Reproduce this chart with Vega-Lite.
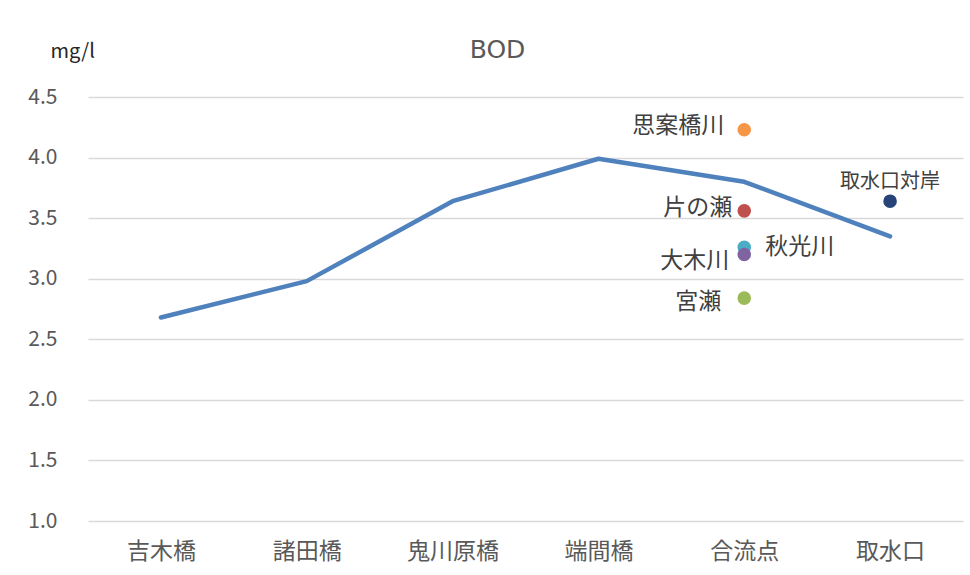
{
  "$schema": "https://vega.github.io/schema/vega-lite/v6.json",
  "width": 875,
  "height": 424,
  "autosize": {"type": "none"},
  "padding": {"left": 88, "top": 97, "right": 7, "bottom": 54},
  "background": "white",
  "config": {"view": {"stroke": null}, "font": "Noto Sans CJK JP"},
  "title": {"text": "BOD", "fontSize": 25, "fontWeight": "normal", "color": "#595959", "font": "DejaVu Sans", "dx": -28, "dy": 22, "offset": 0},
  "datasets": {
    "line": [
      {"site": "吉木橋", "value": 2.68},
      {"site": "諸田橋", "value": 2.98},
      {"site": "鬼川原橋", "value": 3.64},
      {"site": "端間橋", "value": 3.99},
      {"site": "合流点", "value": 3.80},
      {"site": "取水口", "value": 3.35}
    ],
    "points": [
      {"site": "合流点", "name": "思案橋川", "value": 4.23},
      {"site": "合流点", "name": "片の瀬", "value": 3.56},
      {"site": "合流点", "name": "秋光川", "value": 3.26},
      {"site": "合流点", "name": "大木川", "value": 3.20},
      {"site": "合流点", "name": "宮瀬", "value": 2.84},
      {"site": "取水口", "name": "取水口対岸", "value": 3.64}
    ]
  },
  "encoding": {
    "x": {"field": "site", "type": "nominal", "sort": null,
      "scale": {"type": "point", "padding": 0.5, "domain": ["吉木橋", "諸田橋", "鬼川原橋", "端間橋", "合流点", "取水口"]},
      "axis": {"title": null, "labelAngle": 0, "domain": false, "ticks": false, "grid": false, "labelFontSize": 23, "labelColor": "#595959", "labelPadding": 19}},
    "y": {"field": "value", "type": "quantitative",
      "scale": {"domain": [1, 4.5], "nice": false, "zero": false},
      "axis": {"values": [1, 1.5, 2, 2.5, 3, 3.5, 4, 4.5], "format": ".1f", "domain": false, "ticks": false, "grid": true, "gridColor": "#d9d9d9", "gridWidth": 1.5,
        "labelFontSize": 21, "labelColor": "#595959", "labelPadding": 31,
        "title": "mg/l", "titleAngle": 0, "titleX": -38, "titleY": -40, "titleAlign": "left", "titleBaseline": "alphabetic", "titleFontSize": 20, "titleFontWeight": "normal", "titleColor": "#262626"}}
  },
  "layer": [
    {"data": {"name": "line"}, "mark": {"type": "line", "color": "#4F81BD", "strokeWidth": 4.5, "strokeCap": "round", "strokeJoin": "round"}},
    {"data": {"name": "points"}, "mark": {"type": "circle", "size": 185, "opacity": 1},
      "encoding": {"color": {"field": "name", "type": "nominal", "legend": null,
        "scale": {"domain": ["思案橋川", "片の瀬", "秋光川", "大木川", "宮瀬", "取水口対岸"], "range": ["#F79646", "#C0504D", "#4BACC6", "#8064A2", "#9BBB59", "#264478"]}}}},
    {"data": {"name": "points"}, "transform": [{"filter": "datum.name === '思案橋川'"}],
      "mark": {"type": "text", "align": "right", "baseline": "middle", "dx": -20, "dy": -4, "fontSize": 23, "color": "#404040"},
      "encoding": {"text": {"field": "name"}}},
    {"data": {"name": "points"}, "transform": [{"filter": "datum.name === '片の瀬'"}],
      "mark": {"type": "text", "align": "right", "baseline": "middle", "dx": -12, "dy": -3, "fontSize": 23, "color": "#404040"},
      "encoding": {"text": {"field": "name"}}},
    {"data": {"name": "points"}, "transform": [{"filter": "datum.name === '宮瀬'"}],
      "mark": {"type": "text", "align": "right", "baseline": "middle", "dx": -23, "dy": 4, "fontSize": 23, "color": "#404040"},
      "encoding": {"text": {"field": "name"}}},
    {"data": {"name": "points"}, "transform": [{"filter": "datum.name === '大木川'"}],
      "mark": {"type": "text", "align": "right", "baseline": "middle", "dx": -15, "dy": 7, "fontSize": 23, "color": "#404040"},
      "encoding": {"text": {"field": "name"}}},
    {"data": {"name": "points"}, "transform": [{"filter": "datum.name === '秋光川'"}],
      "mark": {"type": "text", "align": "left", "baseline": "middle", "dx": 21, "dy": 0, "fontSize": 23, "color": "#404040"},
      "encoding": {"text": {"field": "name"}}},
    {"data": {"name": "points"}, "transform": [{"filter": "datum.name === '取水口対岸'"}],
      "mark": {"type": "text", "align": "center", "baseline": "middle", "dx": 0, "dy": -19, "fontSize": 20, "color": "#404040"},
      "encoding": {"text": {"field": "name"}}}
  ]
}
